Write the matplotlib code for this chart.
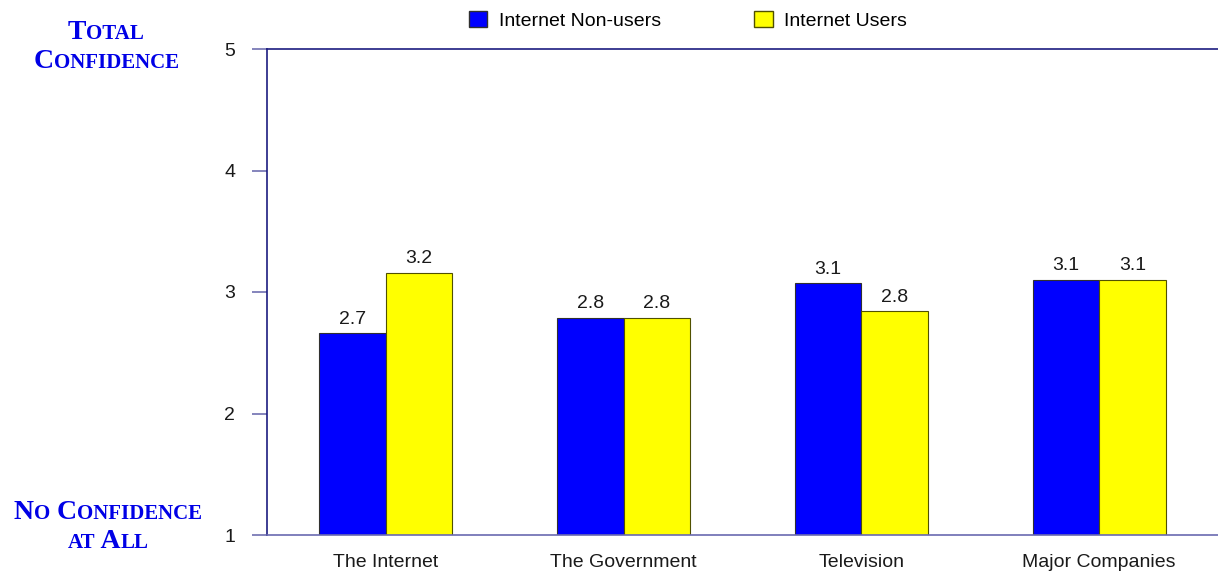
import numpy as np
import matplotlib
matplotlib.use("Agg")
import matplotlib.pyplot as plt
from matplotlib.offsetbox import TextArea, HPacker, VPacker, AnchoredOffsetbox
from matplotlib.patches import Patch

plt.rcParams['font.family'] = ['Liberation Sans', 'DejaVu Sans']

categories = ['The Internet', 'The Government', 'Television', 'Major Companies']
non_users = [2.66, 2.79, 3.07, 3.10]
users = [3.16, 2.79, 2.84, 3.10]
series_names = ['Internet Non-users', 'Internet Users']
yticks = [1, 2, 3, 4, 5]

navy = '#1c1c80'
title_blue = '#0000e6'


def small_caps(text, big, small):
    # fake small caps: capitals at full size, lowercase as smaller capitals
    parts = []
    run, run_up = '', None
    for ch in text:
        up = ch.isupper() or not ch.isalpha()
        if run_up is None or up == run_up:
            run += ch
        else:
            parts.append((run, run_up))
            run = ch
        run_up = up
    parts.append((run, run_up))
    areas = []
    for s, up in parts:
        areas.append(TextArea(s.upper(), textprops=dict(
            fontsize=big if up else small, color=title_blue,
            fontweight='bold', family='Liberation Serif')))
    return HPacker(children=areas, align='baseline', pad=0, sep=0)


fig = plt.figure(figsize=(12.18, 5.76), dpi=100)
ax = fig.add_axes([267 / 1218, 41 / 576, 1 - 267 / 1218, 486 / 576])

x = np.arange(len(categories))
w = 0.28
b1 = ax.bar(x - w / 2, np.array(non_users) - 1, w, bottom=1, color='#0000ff',
            edgecolor='#303030', linewidth=0.8)
b2 = ax.bar(x + w / 2, np.array(users) - 1, w, bottom=1, color='#ffff00',
            edgecolor='#505000', linewidth=0.8)

for bars, vals in ((b1, non_users), (b2, users)):
    for r, v in zip(bars, vals):
        ax.annotate(f'{v:.1f}', (r.get_x() + r.get_width() / 2, v),
                    xytext=(0, 4), textcoords='offset points',
                    ha='center', va='bottom', fontsize=14, color='#1a1a1a')

ax.set_xlim(-0.5, 3.5)
ax.set_ylim(1, 5)
ax.set_yticks(yticks)
ax.set_yticklabels([str(t) for t in yticks], fontsize=14, color='#1a1a1a')
ax.tick_params(axis='y', length=11, width=1.2, color='#7070b0', pad=12)
ax.set_xticks(x)
ax.set_xticklabels(categories, fontsize=14, color='#1a1a1a')
ax.tick_params(axis='x', length=0, pad=14)

for s in ('left', 'top', 'bottom'):
    ax.spines[s].set_color(navy)
    ax.spines[s].set_linewidth(1.2)
ax.spines['right'].set_visible(False)
ax.spines['bottom'].set_color('#6a6ab0')

handles = [Patch(facecolor='#0000ff', edgecolor='#303030'),
           Patch(facecolor='#ffff00', edgecolor='#505000')]
fig.legend(handles, series_names, loc='upper center', ncol=2, frameon=False,
           bbox_to_anchor=(688 / 1218, 1.012), fontsize=14, handlelength=0.95,
           handleheight=0.95, columnspacing=4.8, handletextpad=0.6)

top = VPacker(children=[small_caps('Total', 20, 15), small_caps('Confidence', 20, 15)],
              align='center', pad=0, sep=3)
fig.add_artist(AnchoredOffsetbox(loc='center', child=top, frameon=False,
                                 bbox_to_anchor=(106 / 1218, 1 - 47 / 576),
                                 bbox_transform=fig.transFigure, pad=0, borderpad=0))
bot = VPacker(children=[small_caps('No Confidence', 20, 15), small_caps('at All', 20, 15)],
              align='center', pad=0, sep=3)
fig.add_artist(AnchoredOffsetbox(loc='center', child=bot, frameon=False,
                                 bbox_to_anchor=(108 / 1218, 1 - 527 / 576),
                                 bbox_transform=fig.transFigure, pad=0, borderpad=0))

fig.savefig('out.png', dpi=100)
